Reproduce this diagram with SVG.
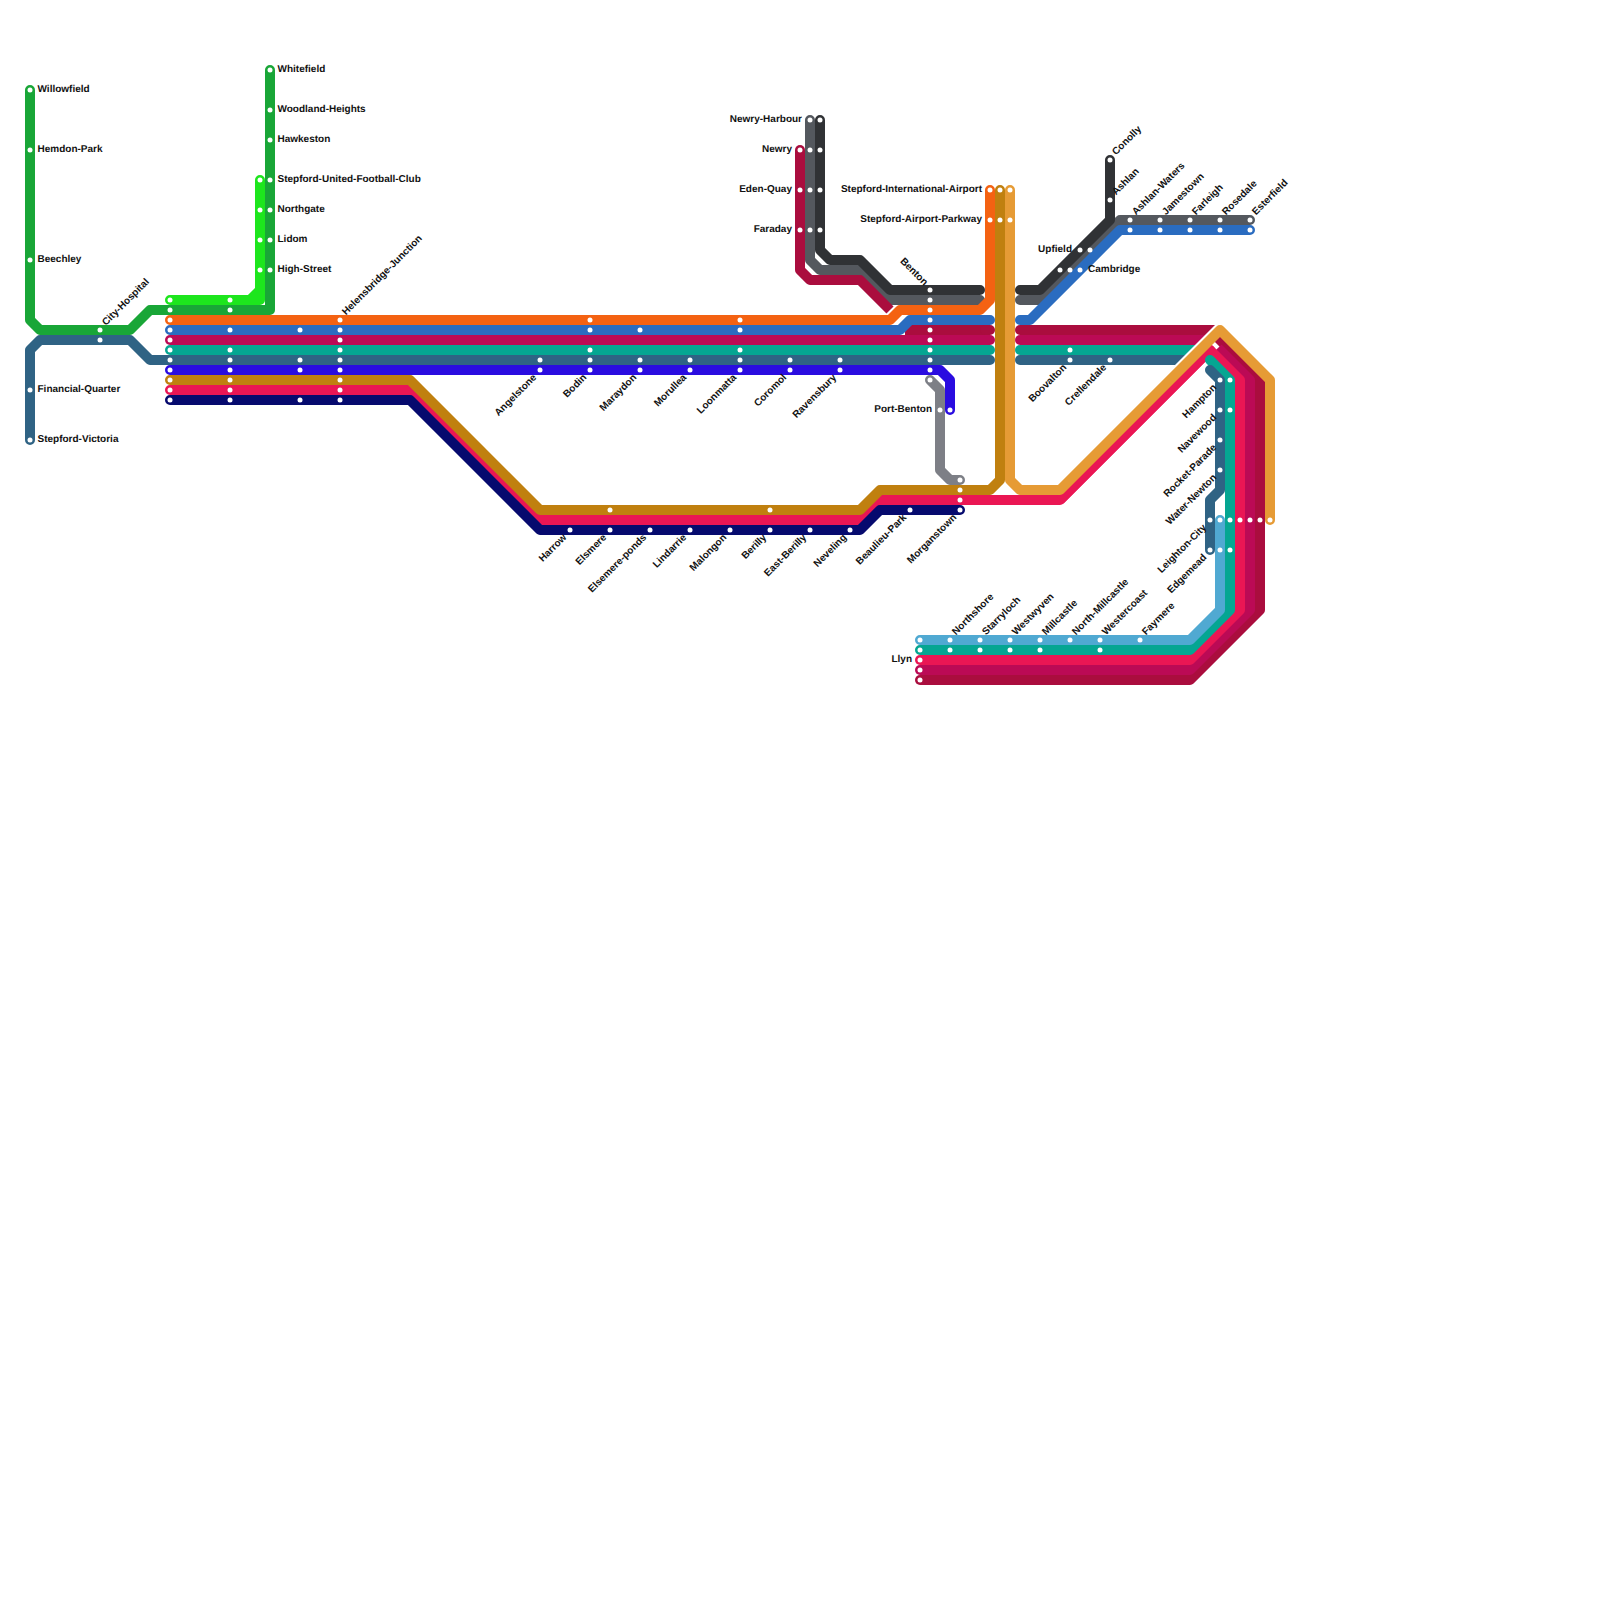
<svg xmlns="http://www.w3.org/2000/svg" width="1600" height="1600" viewBox="0 0 1600 1600">
<style>
text{font-family:"Liberation Sans",Arial,sans-serif;font-size:10px;font-weight:bold;fill:#111;text-rendering:geometricPrecision}
.e{text-anchor:end}
#connectors path{fill:none;stroke-width:10;stroke-linejoin:round;stroke-linecap:round}
#connectors path.b{stroke-linecap:butt}
circle{fill:#fff;r:2.5px}
.green{stroke:#19a637}.lime{stroke:#1de61d}.orange{stroke:#f46212}.blue{stroke:#2a6cc0}.magenta{stroke:#bb0a55}.teal{stroke:#05a692}.steel{stroke:#2f6384}.indigo{stroke:#2a0ce0}.ochre{stroke:#c0800f}.pink{stroke:#ea1654}.navy{stroke:#060a6e}.crimson{stroke:#aa0d3e}.grey{stroke:#54585e}.dark{stroke:#303235}.amber{stroke:#e69b35}.sky{stroke:#50a9d2}.slate{stroke:#7d7f86}
</style>
<defs><clipPath id="cut"><polygon points="1000,300 1240,300 1140,400 1000,400"/></clipPath></defs>
<rect width="1600" height="1600" fill="#fff"/>
<g id="connectors">
<path class="green" d="M30 90V320L40 330H130L150 310H270V70"/>
<path class="lime" d="M170 300H250L260 290V180M250 300H260V290"/>
<path class="steel" d="M30 440V350L40 340H130L150 360H990"/>
<path class="teal" d="M170 350H990"/>
<path class="magenta" d="M170 340H990"/>
<path class="indigo" d="M170 370H940L950 380V410"/>
<path class="pink" d="M170 390H410L540 520H860L880 500H1060L1210 350"/>
<path class="ochre" d="M170 380H410L540 510H860L880 490H990L1000 480V190"/>
<path class="navy" d="M170 400H410L540 530H860L880 510H960"/>
<path class="grey" d="M810 120V260L820 270H860L890 300H980"/>
<path class="dark" d="M820 120V250L830 260H860L890 290H980"/>
<path class="crimson b" d="M905 330H985"/>
<path class="crimson" d="M985 330H990"/>
<path class="crimson b" d="M800 155V270L810 280H860L890 310"/>
<path class="crimson" d="M800 150V155"/>
<path class="orange" d="M170 320H890L900 310H980L990 300V190"/>
<path class="blue" d="M170 330H900L910 320H990"/>
<path class="slate" d="M930 380L940 390V470L950 480H960"/>
<path class="grey" d="M1020 300H1040L1120 220H1250"/>
<path class="dark" d="M1020 290H1040L1110 220V160"/>
<path class="blue" d="M1020 320H1030L1120 230H1250"/>
<g clip-path="url(#cut)">
<path class="crimson" d="M1020 330H1225"/>
<path class="magenta" d="M1020 340H1225"/>
<path class="teal" d="M1020 350H1225"/>
<path class="steel" d="M1020 360H1225"/>
</g>
<path class="crimson b" d="M1218 338L1260 380V610L1190 680H925"/>
<path class="crimson" d="M925 680H920"/>
<path class="magenta b" d="M1218 348L1250 380V610L1190 670H925"/>
<path class="magenta" d="M925 670H920"/>
<path class="pink b" d="M1060 500L1210 350L1240 380V610L1190 660H925"/>
<path class="pink" d="M925 660H920"/>
<path class="teal" d="M1210 360L1230 380V610L1190 650H920"/>
<path class="steel" d="M1210 370L1220 380V490L1210 500V550"/>
<path class="sky" d="M1220 520V610L1190 640H920"/>
<path class="amber" d="M1010 190V480L1020 490H1060L1220 330L1270 380V520"/>
</g>
<g id="stations">
<g id="willowfield"><circle cx="30" cy="90"/><text x="37.5" y="92">Willowfield</text></g>
<g id="hemdon-park"><circle cx="30" cy="150"/><text x="37.5" y="152">Hemdon-Park</text></g>
<g id="beechley"><circle cx="30" cy="260"/><text x="37.5" y="262">Beechley</text></g>
<g id="financial-quarter"><circle cx="30" cy="390"/><text x="37.5" y="392">Financial-Quarter</text></g>
<g id="stepford-victoria"><circle cx="30" cy="440"/><text x="37.5" y="442">Stepford-Victoria</text></g>
<g id="city-hospital"><circle cx="100" cy="330"/><circle cx="100" cy="340"/><text transform="translate(106 326) rotate(-45)">City-Hospital</text></g>
<g id="whitefield"><circle cx="270" cy="70"/><text x="277.5" y="72">Whitefield</text></g>
<g id="woodland-heights"><circle cx="270" cy="110"/><text x="277.5" y="112">Woodland-Heights</text></g>
<g id="hawkeston"><circle cx="270" cy="140"/><text x="277.5" y="142">Hawkeston</text></g>
<g id="stepford-united"><circle cx="260" cy="180"/><circle cx="270" cy="180"/><text x="277.5" y="182">Stepford-United-Football-Club</text></g>
<g id="northgate"><circle cx="260" cy="210"/><circle cx="270" cy="210"/><text x="277.5" y="212">Northgate</text></g>
<g id="lidom"><circle cx="260" cy="240"/><circle cx="270" cy="240"/><text x="277.5" y="242">Lidom</text></g>
<g id="high-street"><circle cx="260" cy="270"/><circle cx="270" cy="270"/><text x="277.5" y="272">High-Street</text></g>
<g id="west-terminus"><circle cx="170" cy="300"/><circle cx="170" cy="310"/><circle cx="170" cy="320"/><circle cx="170" cy="330"/><circle cx="170" cy="340"/><circle cx="170" cy="350"/><circle cx="170" cy="360"/><circle cx="170" cy="370"/><circle cx="170" cy="380"/><circle cx="170" cy="390"/><circle cx="170" cy="400"/></g>
<g id="interchange-230"><circle cx="230" cy="300"/><circle cx="230" cy="310"/><circle cx="230" cy="330"/><circle cx="230" cy="350"/><circle cx="230" cy="360"/><circle cx="230" cy="370"/><circle cx="230" cy="380"/><circle cx="230" cy="390"/><circle cx="230" cy="400"/></g>
<g id="interchange-300"><circle cx="300" cy="330"/><circle cx="300" cy="360"/><circle cx="300" cy="370"/><circle cx="300" cy="400"/></g>
<g id="helensbridge-junction"><circle cx="340" cy="320"/><circle cx="340" cy="330"/><circle cx="340" cy="340"/><circle cx="340" cy="350"/><circle cx="340" cy="360"/><circle cx="340" cy="370"/><circle cx="340" cy="380"/><circle cx="340" cy="390"/><circle cx="340" cy="400"/><text transform="translate(346 315.5) rotate(-45)">Helensbridge-Junction</text></g>
<g id="angelstone"><circle cx="540" cy="360"/><circle cx="540" cy="370"/><text class="e" transform="translate(537 378) rotate(-45)">Angelstone</text></g>
<g id="bodin"><circle cx="590" cy="320"/><circle cx="590" cy="330"/><circle cx="590" cy="350"/><circle cx="590" cy="360"/><circle cx="590" cy="370"/><text class="e" transform="translate(587 378) rotate(-45)">Bodin</text></g>
<g id="maraydon"><circle cx="640" cy="330"/><circle cx="640" cy="360"/><circle cx="640" cy="370"/><text class="e" transform="translate(637 378) rotate(-45)">Maraydon</text></g>
<g id="morullea"><circle cx="690" cy="360"/><circle cx="690" cy="370"/><text class="e" transform="translate(687 378) rotate(-45)">Morullea</text></g>
<g id="loonmatta"><circle cx="740" cy="320"/><circle cx="740" cy="330"/><circle cx="740" cy="350"/><circle cx="740" cy="360"/><circle cx="740" cy="370"/><text class="e" transform="translate(737 378) rotate(-45)">Loonmatta</text></g>
<g id="coromol"><circle cx="790" cy="360"/><circle cx="790" cy="370"/><text class="e" transform="translate(787 378) rotate(-45)">Coromol</text></g>
<g id="ravensbury"><circle cx="840" cy="360"/><circle cx="840" cy="370"/><text class="e" transform="translate(837 378) rotate(-45)">Ravensbury</text></g>
<g id="harrow"><circle cx="570" cy="530"/><text class="e" transform="translate(567 538) rotate(-45)">Harrow</text></g>
<g id="elsmere"><circle cx="610" cy="510"/><circle cx="610" cy="530"/><text class="e" transform="translate(607 538) rotate(-45)">Elsmere</text></g>
<g id="elsemere-ponds"><circle cx="650" cy="530"/><text class="e" transform="translate(647 538) rotate(-45)">Elsemere-ponds</text></g>
<g id="lindarrie"><circle cx="690" cy="530"/><text class="e" transform="translate(687 538) rotate(-45)">Lindarrie</text></g>
<g id="malongon"><circle cx="730" cy="530"/><text class="e" transform="translate(727 538) rotate(-45)">Malongon</text></g>
<g id="berilly"><circle cx="770" cy="510"/><circle cx="770" cy="530"/><text class="e" transform="translate(767 538) rotate(-45)">Berilly</text></g>
<g id="east-berilly"><circle cx="810" cy="530"/><text class="e" transform="translate(807 538) rotate(-45)">East-Berilly</text></g>
<g id="neveling"><circle cx="850" cy="530"/><text class="e" transform="translate(847 538) rotate(-45)">Neveling</text></g>
<g id="beaulieu-park"><circle cx="910" cy="510"/><text class="e" transform="translate(907 518) rotate(-45)">Beaulieu-Park</text></g>
<g id="morganstown"><circle cx="960" cy="480"/><circle cx="960" cy="490"/><circle cx="960" cy="500"/><circle cx="960" cy="510"/><text class="e" transform="translate(957 518) rotate(-45)">Morganstown</text></g>
<g id="port-benton"><circle cx="930" cy="380"/><circle cx="940" cy="410"/><circle cx="950" cy="410"/><text class="e" x="932" y="412">Port-Benton</text></g>
<g id="newry-harbour"><circle cx="810" cy="120"/><circle cx="820" cy="120"/><text class="e" x="802" y="122">Newry-Harbour</text></g>
<g id="newry"><circle cx="800" cy="150"/><circle cx="810" cy="150"/><circle cx="820" cy="150"/><text class="e" x="792" y="152">Newry</text></g>
<g id="eden-quay"><circle cx="800" cy="190"/><circle cx="810" cy="190"/><circle cx="820" cy="190"/><text class="e" x="792" y="192">Eden-Quay</text></g>
<g id="faraday"><circle cx="800" cy="230"/><circle cx="810" cy="230"/><circle cx="820" cy="230"/><text class="e" x="792" y="232">Faraday</text></g>
<g id="benton"><circle cx="930" cy="290"/><circle cx="930" cy="300"/><circle cx="930" cy="310"/><circle cx="930" cy="320"/><circle cx="930" cy="330"/><circle cx="930" cy="340"/><circle cx="930" cy="350"/><circle cx="930" cy="360"/><circle cx="930" cy="370"/><text class="e" transform="translate(924 286) rotate(45)">Benton</text></g>
<g id="stepford-international-airport"><circle cx="990" cy="190"/><circle cx="1000" cy="190"/><circle cx="1010" cy="190"/><text class="e" x="982" y="192">Stepford-International-Airport</text></g>
<g id="stepford-airport-parkway"><circle cx="990" cy="220"/><circle cx="1000" cy="220"/><circle cx="1010" cy="220"/><text class="e" x="982" y="222">Stepford-Airport-Parkway</text></g>
<g id="conolly"><circle cx="1110" cy="160"/><text transform="translate(1116 155.5) rotate(-45)">Conolly</text></g>
<g id="ashlan"><circle cx="1110" cy="200"/><text transform="translate(1116 195.5) rotate(-45)">Ashlan</text></g>
<g id="upfield"><circle cx="1080" cy="250"/><circle cx="1090" cy="250"/><text class="e" x="1072" y="252">Upfield</text></g>
<g id="cambridge"><circle cx="1060" cy="270"/><circle cx="1070" cy="270"/><circle cx="1080" cy="270"/><text x="1088" y="272">Cambridge</text></g>
<g id="ashlan-waters"><circle cx="1130" cy="220"/><circle cx="1130" cy="230"/><text transform="translate(1136 215.5) rotate(-45)">Ashlan-Waters</text></g>
<g id="jamestown"><circle cx="1160" cy="220"/><circle cx="1160" cy="230"/><text transform="translate(1166 215.5) rotate(-45)">Jamestown</text></g>
<g id="farleigh"><circle cx="1190" cy="220"/><circle cx="1190" cy="230"/><text transform="translate(1196 215.5) rotate(-45)">Farleigh</text></g>
<g id="rosedale"><circle cx="1220" cy="220"/><circle cx="1220" cy="230"/><text transform="translate(1226 215.5) rotate(-45)">Rosedale</text></g>
<g id="esterfield"><circle cx="1250" cy="220"/><circle cx="1250" cy="230"/><text transform="translate(1256 215.5) rotate(-45)">Esterfield</text></g>
<g id="boovalton"><circle cx="1070" cy="350"/><circle cx="1070" cy="360"/><text class="e" transform="translate(1067 368) rotate(-45)">Boovalton</text></g>
<g id="crellendale"><circle cx="1110" cy="360"/><text class="e" transform="translate(1107 368) rotate(-45)">Crellendale</text></g>
<g id="hampton"><circle cx="1220" cy="380"/><circle cx="1230" cy="380"/><text class="e" transform="translate(1217 388) rotate(-45)">Hampton</text></g>
<g id="navewood"><circle cx="1220" cy="410"/><circle cx="1230" cy="410"/><text class="e" transform="translate(1217 418) rotate(-45)">Navewood</text></g>
<g id="rocket-parade"><circle cx="1220" cy="440"/><text class="e" transform="translate(1217 448) rotate(-45)">Rocket-Parade</text></g>
<g id="water-newton"><circle cx="1220" cy="470"/><text class="e" transform="translate(1217 478) rotate(-45)">Water-Newton</text></g>
<g id="leighton-city"><circle cx="1210" cy="520"/><circle cx="1220" cy="520"/><circle cx="1230" cy="520"/><circle cx="1240" cy="520"/><circle cx="1250" cy="520"/><circle cx="1260" cy="520"/><circle cx="1270" cy="520"/><text class="e" transform="translate(1207 528) rotate(-45)">Leighton-City</text></g>
<g id="edgemead"><circle cx="1210" cy="550"/><circle cx="1220" cy="550"/><circle cx="1230" cy="550"/><text class="e" transform="translate(1207 558) rotate(-45)">Edgemead</text></g>
<g id="llyn"><circle cx="920" cy="640"/><circle cx="920" cy="650"/><circle cx="920" cy="660"/><circle cx="920" cy="670"/><circle cx="920" cy="680"/><text class="e" x="912" y="662">Llyn</text></g>
<g id="northshore"><circle cx="950" cy="640"/><circle cx="950" cy="650"/><text transform="translate(956 635.5) rotate(-45)">Northshore</text></g>
<g id="starryloch"><circle cx="980" cy="640"/><circle cx="980" cy="650"/><text transform="translate(986 635.5) rotate(-45)">Starryloch</text></g>
<g id="westwyven"><circle cx="1010" cy="640"/><circle cx="1010" cy="650"/><text transform="translate(1016 635.5) rotate(-45)">Westwyven</text></g>
<g id="millcastle"><circle cx="1040" cy="640"/><circle cx="1040" cy="650"/><text transform="translate(1046 635.5) rotate(-45)">Millcastle</text></g>
<g id="north-millcastle"><circle cx="1070" cy="640"/><text transform="translate(1076 635.5) rotate(-45)">North-Millcastle</text></g>
<g id="westercoast"><circle cx="1100" cy="640"/><circle cx="1100" cy="650"/><text transform="translate(1106 635.5) rotate(-45)">Westercoast</text></g>
<g id="faymere"><circle cx="1140" cy="640"/><text transform="translate(1146 635.5) rotate(-45)">Faymere</text></g>
</g>
</svg>
